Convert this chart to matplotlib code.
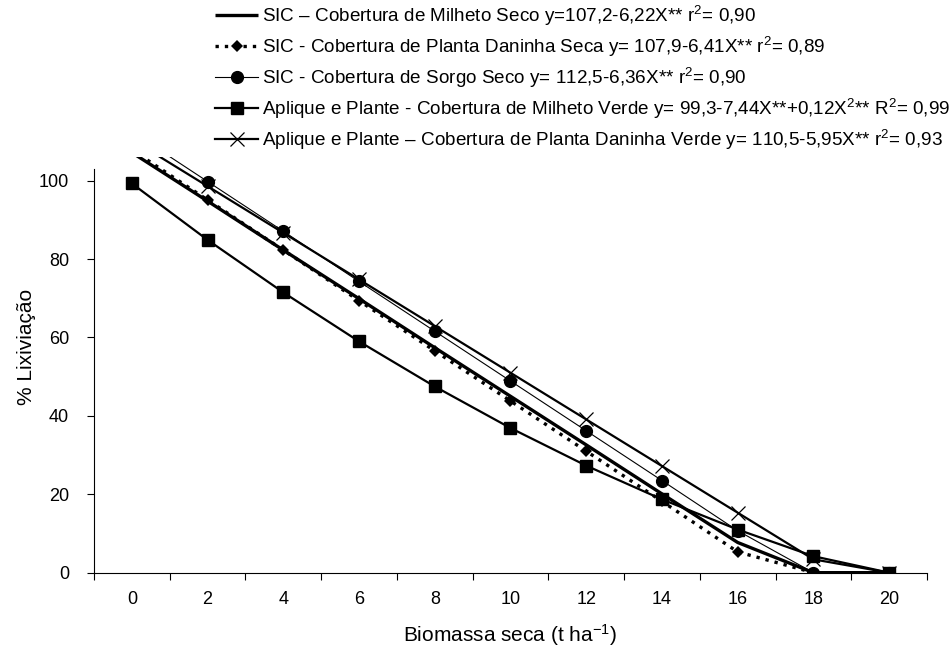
import matplotlib
matplotlib.use("Agg")
import matplotlib.pyplot as plt

fam = ['Liberation Sans Narrow', 'Liberation Sans', 'DejaVu Sans']
plt.rcParams['font.family'] = fam
plt.rcParams['mathtext.fontset'] = 'custom'
plt.rcParams['mathtext.rm'] = 'Liberation Sans'
plt.rcParams['mathtext.it'] = 'Liberation Sans'
plt.rcParams['mathtext.default'] = 'regular'

# ---- data ----
categories = ["0", "2", "4", "6", "8", "10", "12", "14", "16", "18", "20"]
milheto_seco = [107.2, 94.8, 82.3, 69.9, 57.4, 45.0, 32.6, 20.1, 7.7, 0.0, 0.0]
daninha_seca = [107.9, 95.1, 82.3, 69.4, 56.6, 43.8, 31.0, 18.2, 5.3, 0.0, 0.0]
sorgo_seco = [112.5, 99.8, 87.1, 74.3, 61.6, 48.9, 36.2, 23.5, 10.7, 0.0, 0.0]
milheto_verde = [99.3, 84.9, 71.5, 59.0, 47.5, 36.9, 27.3, 18.7, 11.0, 4.2, 0.0]
daninha_verde = [110.5, 98.6, 86.7, 74.8, 62.9, 51.0, 39.1, 27.2, 15.3, 3.4, 0.0]

labels = [
    "SIC \u2013 Cobertura de Milheto Seco y=107,2-6,22X** r$^2$= 0,90",
    "SIC - Cobertura de Planta Daninha Seca y= 107,9-6,41X** r$^2$= 0,89",
    "SIC - Cobertura de Sorgo Seco y= 112,5-6,36X** r$^2$= 0,90",
    "Aplique e Plante - Cobertura de Milheto Verde y= 99,3-7,44X**+0,12X$^2$** R$^2$= 0,99",
    "Aplique e Plante \u2013 Cobertura de Planta Daninha Verde y= 110,5-5,95X** r$^2$= 0,93",
]
y_ticks = [0, 20, 40, 60, 80, 100]

fig = plt.figure(figsize=(9.51, 6.55), dpi=100)
ax = fig.add_axes([0.0988, 0.1257, 0.8760, 0.6343])

x = list(range(len(categories)))
h1, = ax.plot(x, milheto_seco, color='black', lw=2.4, solid_capstyle='butt')
h2, = ax.plot(x, daninha_seca, color='black', lw=2.4, linestyle=(0, (1.0, 1.8)),
              marker='D', markersize=6.5, markeredgewidth=0, dash_capstyle='butt')
h3, = ax.plot(x, sorgo_seco, color='black', lw=0.8, marker='o', markersize=8.5)
h4, = ax.plot(x, milheto_verde, color='black', lw=1.6, marker='s', markersize=9)
h5, = ax.plot(x, daninha_verde, color='black', lw=1.6, marker='x', markersize=10,
              markeredgewidth=0.9)

ax.set_xlim(-0.5, len(categories) - 0.5)
ax.set_ylim(0, 106)
ax.set_xticks(x)
ax.set_xticklabels(categories)
ax.set_xticks([i - 0.5 for i in range(len(categories) + 1)], minor=True)
ax.tick_params(axis='x', which='major', length=0, pad=13, labelsize=13)
ax.tick_params(axis='x', which='minor', length=5, width=0.8, direction='out')
ax.set_yticks(y_ticks)
ax.tick_params(axis='y', which='major', length=5, width=0.8, direction='out', pad=13,
               labelsize=13)

for s in ['top', 'right']:
    ax.spines[s].set_visible(False)
ax.spines['left'].set_bounds(0, 103)
ax.spines['left'].set_linewidth(0.8)
ax.spines['bottom'].set_linewidth(0.8)

ax.set_ylabel("% Lixivia\u00e7\u00e3o", fontsize=15)
ax.yaxis.set_label_coords(-0.07, 0.543)
ax.set_xlabel("Biomassa seca (t ha$^{-1}$)", fontsize=15)
ax.xaxis.set_label_coords(0.5, -0.118)

fig.legend([h1, h2, h3, h4, h5], labels, loc='upper left',
           bbox_to_anchor=(215 / 951, 1 - 4 / 655), frameon=False,
           fontsize=13.6, handlelength=2.3, handletextpad=0.2,
           labelspacing=0.36, borderaxespad=0, borderpad=0)

fig.savefig("out.png", dpi=100)
